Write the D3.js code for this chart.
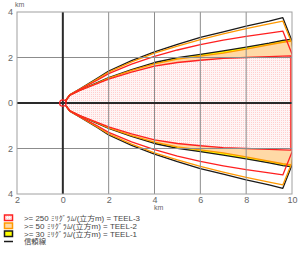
<!DOCTYPE html>
<html>
<head>
<meta charset="utf-8">
<script src="https://cdn.jsdelivr.net/npm/d3@7"></script>
<style>
body { margin:0; background:#fff; }
svg { display:block; }
</style>
</head>
<body>
<svg id="drawing_region"></svg>
<script>
// downwind distance (km) and half widths (km) of each footprint curve
const dist       = [0.14, 0.3, 0.75, 1.5, 2, 3, 4, 5, 6, 7, 8, 9, 9.6];
const confBlack  = [0.14, 0.36, 0.62, 1.08, 1.4, 1.86, 2.25, 2.58, 2.88, 3.13, 3.38, 3.6, 3.75];
const confOrange = [0.14, 0.36, 0.61, 1.05, 1.36, 1.81, 2.19, 2.5, 2.79, 3.04, 3.27, 3.48, 3.6];
const confRed    = [0.14, 0.35, 0.6, 1.0, 1.29, 1.71, 2.05, 2.33, 2.57, 2.76, 2.93, 3.07, 3.16];
const zoneYellow = [0.13, 0.34, 0.57, 0.9, 1.12, 1.47, 1.78, 1.99, 2.14, 2.29, 2.46, 2.63, 2.75];
const zoneOrange = [0.13, 0.34, 0.56, 0.88, 1.09, 1.43, 1.72, 1.93, 2.06, 2.19, 2.37, 2.56, 2.67];
const zoneRed    = [0.12, 0.33, 0.55, 0.85, 1.05, 1.36, 1.62, 1.78, 1.88, 1.96, 2.0, 2.04, 2.06];

// end caps [distance, half width]
const capBlack  = [[10.0, 2.72], [10.3, 0]];
const capOrange = [[10.0, 2.62], [10.3, 0]];
const capRed    = [[10.0, 2.15], [10.3, 0]];
const capYellowZone = [[10.1, 2.82], [10.1, 0]];
const capOrangeZone = [[10.1, 2.74], [10.1, 0]];
const capRedZone    = [[9.95, 2.07], [9.95, 0]];

const xTicks = [-2, 0, 2, 4, 6, 8, 10];
const yTicks = [-4, -2, 0, 2, 4];
const sourceRadius = 0.14;

const legendLabels = [
    ">= 250 ﾐﾘｸﾞﾗﾑ/(立方m) = TEEL-3",
    ">= 50 ﾐﾘｸﾞﾗﾑ/(立方m) = TEEL-2",
    ">= 30 ﾐﾘｸﾞﾗﾑ/(立方m) = TEEL-1",
    "信頼線"
];

const config = {
    width: 300,
    height: 254,
    margin: {top:12, right:8, bottom:60, left:17}
};

const svg = d3.select('#drawing_region')
    .attr('width', config.width)
    .attr('height', config.height);

const inner_width = config.width - config.margin.left - config.margin.right;
const inner_height = config.height - config.margin.top - config.margin.bottom;

const chart = svg.append('g')
    .attr('transform', `translate(${config.margin.left}, ${config.margin.top})`);

const xscale = d3.scaleLinear().domain([-2, 10]).range([0, inner_width]);
const yscale = d3.scaleLinear().domain([4, -4]).range([0, inner_height]);

const defs = svg.append('defs');
const pat = defs.append('pattern')
    .attr('id', 'pinkdots')
    .attr('width', 2).attr('height', 2)
    .attr('patternUnits', 'userSpaceOnUse');
pat.append('rect').attr('width', 2).attr('height', 2).attr('fill', '#fff5f5');
pat.append('rect').attr('width', 1).attr('height', 1).attr('fill', '#ffcfcf');

defs.append('clipPath').attr('id', 'plotclip')
    .append('rect')
    .attr('width', inner_width)
    .attr('height', inner_height);

// closed outline: apex, top side, cap, mirrored bottom side
function outline(widths, cap) {
    const top = dist.map((d, i) => [d, widths[i]]).concat(cap);
    const bottom = top.slice().reverse().map(p => [p[0], -p[1]]);
    return [[sourceRadius, 0]].concat(top, bottom);
}

const line = d3.line()
    .x(p => xscale(p[0]))
    .y(p => yscale(p[1]));

const plot = chart.append('g').attr('clip-path', 'url(#plotclip)');

// zone fills
const zones = [
    {w: zoneYellow, cap: capYellowZone, fill: '#ffff00'},
    {w: zoneOrange, cap: capOrangeZone, fill: '#ffd9a6'},
    {w: zoneRed, cap: capRedZone, fill: 'url(#pinkdots)'}
];
plot.selectAll('path.zone')
    .data(zones)
    .enter()
    .append('path')
    .attr('class', 'zone')
    .attr('d', z => line(outline(z.w, z.cap)) + 'Z')
    .attr('fill', z => z.fill)
    .attr('stroke', 'none');

// grid
chart.selectAll('line.xgrid')
    .data(xTicks.filter(t => t > -2 && t < 10 && t !== 0))
    .enter()
    .append('line')
    .attr('x1', d => xscale(d)).attr('x2', d => xscale(d))
    .attr('y1', 0).attr('y2', inner_height)
    .attr('stroke', '#8c8c8c').attr('stroke-width', 1);

chart.selectAll('line.ygrid')
    .data(yTicks.filter(t => t > -4 && t < 4 && t !== 0))
    .enter()
    .append('line')
    .attr('x1', 0).attr('x2', inner_width)
    .attr('y1', d => yscale(d)).attr('y2', d => yscale(d))
    .attr('stroke', '#8c8c8c').attr('stroke-width', 1);

// outlines
const outlines = [
    {w: zoneYellow, cap: capYellowZone, color: '#1a1a1a'},
    {w: zoneOrange, cap: capOrangeZone, color: '#ff9900'},
    {w: zoneRed, cap: capRedZone, color: '#ff2020'},
    {w: confBlack, cap: capBlack, color: '#1a1a1a'},
    {w: confOrange, cap: capOrange, color: '#ff9900'},
    {w: confRed, cap: capRed, color: '#ff2020'}
];
plot.selectAll('path.edge')
    .data(outlines)
    .enter()
    .append('path')
    .attr('class', 'edge')
    .attr('d', z => line(outline(z.w, z.cap)))
    .attr('fill', 'none')
    .attr('stroke', z => z.color)
    .attr('stroke-width', 1.3)
    .attr('stroke-linejoin', 'round');

// zero axes
chart.append('line')
    .attr('x1', xscale(0)).attr('x2', xscale(0))
    .attr('y1', 0).attr('y2', inner_height)
    .attr('stroke', '#2a2a2a').attr('stroke-width', 2);
chart.append('line')
    .attr('x1', 0).attr('x2', inner_width)
    .attr('y1', yscale(0)).attr('y2', yscale(0))
    .attr('stroke', '#2a2a2a').attr('stroke-width', 2);

// source circle
chart.append('circle')
    .attr('cx', xscale(0)).attr('cy', yscale(0))
    .attr('r', xscale(sourceRadius) - xscale(0))
    .attr('fill', 'none')
    .attr('stroke', '#ff2020')
    .attr('stroke-width', 1.3);

// frame
chart.append('rect')
    .attr('x', 0).attr('y', 0)
    .attr('width', inner_width).attr('height', inner_height)
    .attr('fill', 'none')
    .attr('stroke', '#a0a0a0').attr('stroke-width', 1);

// tick labels
const xaxis = d3.axisBottom(xscale).tickValues(xTicks).tickSize(0).tickPadding(3)
    .tickFormat(d => Math.abs(d));
const yaxis = d3.axisLeft(yscale).tickValues(yTicks).tickSize(0).tickPadding(4)
    .tickFormat(d => Math.abs(d));

chart.append('g')
    .attr('transform', `translate(0, ${inner_height})`)
    .call(xaxis)
    .call(g => g.select('.domain').remove());
chart.append('g')
    .call(yaxis)
    .call(g => g.select('.domain').remove());

chart.selectAll('.tick text')
    .attr('fill', '#666')
    .attr('font-size', 9)
    .attr('font-family', 'Arial, "Liberation Sans", sans-serif');

svg.append('text')
    .attr('x', 15).attr('y', 7)
    .attr('font-size', 7)
    .attr('font-family', 'Arial, "Liberation Sans", sans-serif')
    .attr('fill', '#666')
    .text('km');
svg.append('text')
    .attr('x', 154).attr('y', 210)
    .attr('font-size', 7)
    .attr('font-family', 'Arial, "Liberation Sans", sans-serif')
    .attr('fill', '#666')
    .text('km');

// legend
const legend = svg.append('g');
const swatches = [
    {fill: 'url(#pinkdots)', stroke: '#ff2020'},
    {fill: '#ffd9a6', stroke: '#ff9900'},
    {fill: '#ffff00', stroke: '#1a1a1a'}
];
const rowY = [218, 226, 234, 241.5];
const textLen = [116, 113, 113, 22];

legend.selectAll('rect')
    .data(swatches)
    .enter()
    .append('rect')
    .attr('x', 4.5)
    .attr('y', (d, i) => rowY[i] - 3)
    .attr('width', 8)
    .attr('height', 5.5)
    .attr('fill', d => d.fill)
    .attr('stroke', d => d.stroke)
    .attr('stroke-width', 1.5);

legend.append('line')
    .attr('x1', 4).attr('x2', 13)
    .attr('y1', rowY[3]).attr('y2', rowY[3])
    .attr('stroke', '#1a1a1a').attr('stroke-width', 1.5);

legend.selectAll('text')
    .data(legendLabels)
    .enter()
    .append('text')
    .attr('x', 24)
    .attr('y', (d, i) => rowY[i] + 2.5)
    .attr('font-size', 6.8)
    .attr('font-family', '"Liberation Sans", "Noto Sans CJK JP", sans-serif')
    .attr('fill', '#444')
    .attr('textLength', (d, i) => textLen[i])
    .attr('lengthAdjust', 'spacingAndGlyphs')
    .text(d => d);
</script>
</body>
</html>
